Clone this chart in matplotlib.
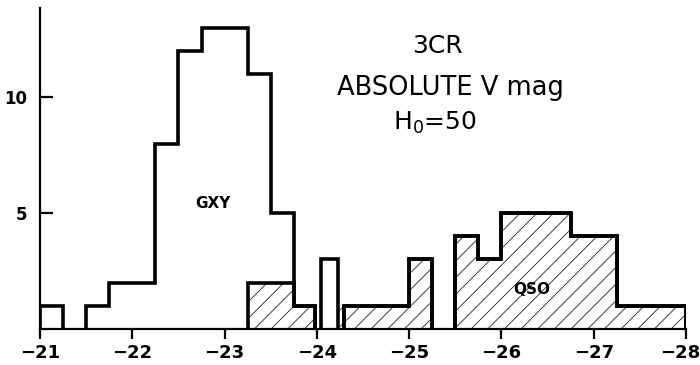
import matplotlib
matplotlib.use("Agg")
import matplotlib.pyplot as plt
import matplotlib.transforms as mtransforms
import numpy as np

# ---- data (0.25 mag bins from -21 to -28) ----
bin_edges = [-21.0 - 0.25 * i for i in range(29)]
total_counts = [1, 0, 1, 2, 2, 8, 12, 13, 13, 11, 5, 1, 3, 1,
                1, 1, 3, 0, 4, 3, 5, 5, 5, 4, 4, 1, 1, 1]
qso_counts = [0, 0, 0, 0, 0, 0, 0, 0, 0, 2, 2, 1, 0, 1,
              1, 1, 3, 0, 4, 3, 5, 5, 5, 4, 4, 1, 1, 1]
x_ticks = [-21, -22, -23, -24, -25, -26, -27, -28]
x_tick_labels = ["\u221221", "\u221222", "\u221223", "\u221224",
                 "\u221225", "\u221226", "\u221227", "\u221228"]
y_ticks = [5, 10]
y_tick_labels = ["5", "10"]
title_lines = ["3CR", "ABSOLUTE V mag", "H$_0$=50"]
label_gxy = "GXY"
label_qso = "QSO"

# outline is drawn as separate boxes at these edges (style detail)
outline_breaks = [-24.0, -24.25]

plt.rcParams["font.family"] = ["DejaVu Sans"]
plt.rcParams["hatch.linewidth"] = 0.6

fig = plt.figure(figsize=(7.0, 3.65), dpi=100)
ax = fig.add_axes([40 / 700, 36 / 365, 646 / 700, 321 / 365])

edges = np.array(bin_edges)
tot = np.array(total_counts, dtype=float)
qso = np.array(qso_counts, dtype=float)

# hatched QSO part (single patch, no seams)
ax.stairs(qso, edges, baseline=0, fill=True, facecolor="none",
          hatch="//", edgecolor="#222222", linewidth=0)


def is_break(x):
    return any(abs(x - b) < 1e-9 for b in outline_breaks)


def draw_outline(counts, lw=2.6):
    groups = []
    cur = []
    for i in range(len(counts)):
        if counts[i] > 0:
            if cur and is_break(edges[i]):
                groups.append(cur)
                cur = []
            cur.append(i)
        else:
            if cur:
                groups.append(cur)
                cur = []
    if cur:
        groups.append(cur)
    inset = 0.022
    for g in groups:
        e = edges[g[0]:g[-1] + 2].copy()
        if is_break(e[0]):
            e[0] -= inset * 1.8
        if is_break(e[-1]):
            e[-1] += inset
        ax.stairs(counts[g[0]:g[-1] + 1], e, baseline=0, fill=False,
                  edgecolor="black", linewidth=lw, joinstyle="miter")


draw_outline(tot)
draw_outline(qso)

ax.set_xlim(-21, -28)
ax.set_ylim(0, 13.85)

for s in ["top", "right"]:
    ax.spines[s].set_visible(False)
for s in ["left", "bottom"]:
    ax.spines[s].set_linewidth(1.6)

ax.set_xticks(x_ticks)
ax.set_xticklabels(x_tick_labels, fontsize=13, fontweight="bold")
ax.set_yticks(y_ticks)
ax.set_yticklabels(y_tick_labels, fontsize=12, fontweight="bold")
ax.tick_params(axis="x", direction="out", length=7, width=1.6, pad=4)
ax.tick_params(axis="y", direction="in", length=9, width=1.6, pad=9)

# keep the last tick label inside the figure
last = ax.get_xticklabels()[-1]
last.set_transform(last.get_transform() +
                   mtransforms.ScaledTranslation(-6 / 100, 0, fig.dpi_scale_trans))

ax.text(-25.31, 12.2, title_lines[0], ha="center", va="center", fontsize=18)
ax.text(-25.45, 10.4, title_lines[1], ha="center", va="center", fontsize=18.5)
ax.text(-25.28, 8.9, title_lines[2], ha="center", va="center", fontsize=18)
ax.text(-22.87, 5.4, label_gxy, ha="center", va="center", fontsize=11,
        fontweight="bold")
ax.text(-26.33, 1.7, label_qso, ha="center", va="center", fontsize=11,
        fontweight="bold")

fig.savefig("out.png", dpi=100)
